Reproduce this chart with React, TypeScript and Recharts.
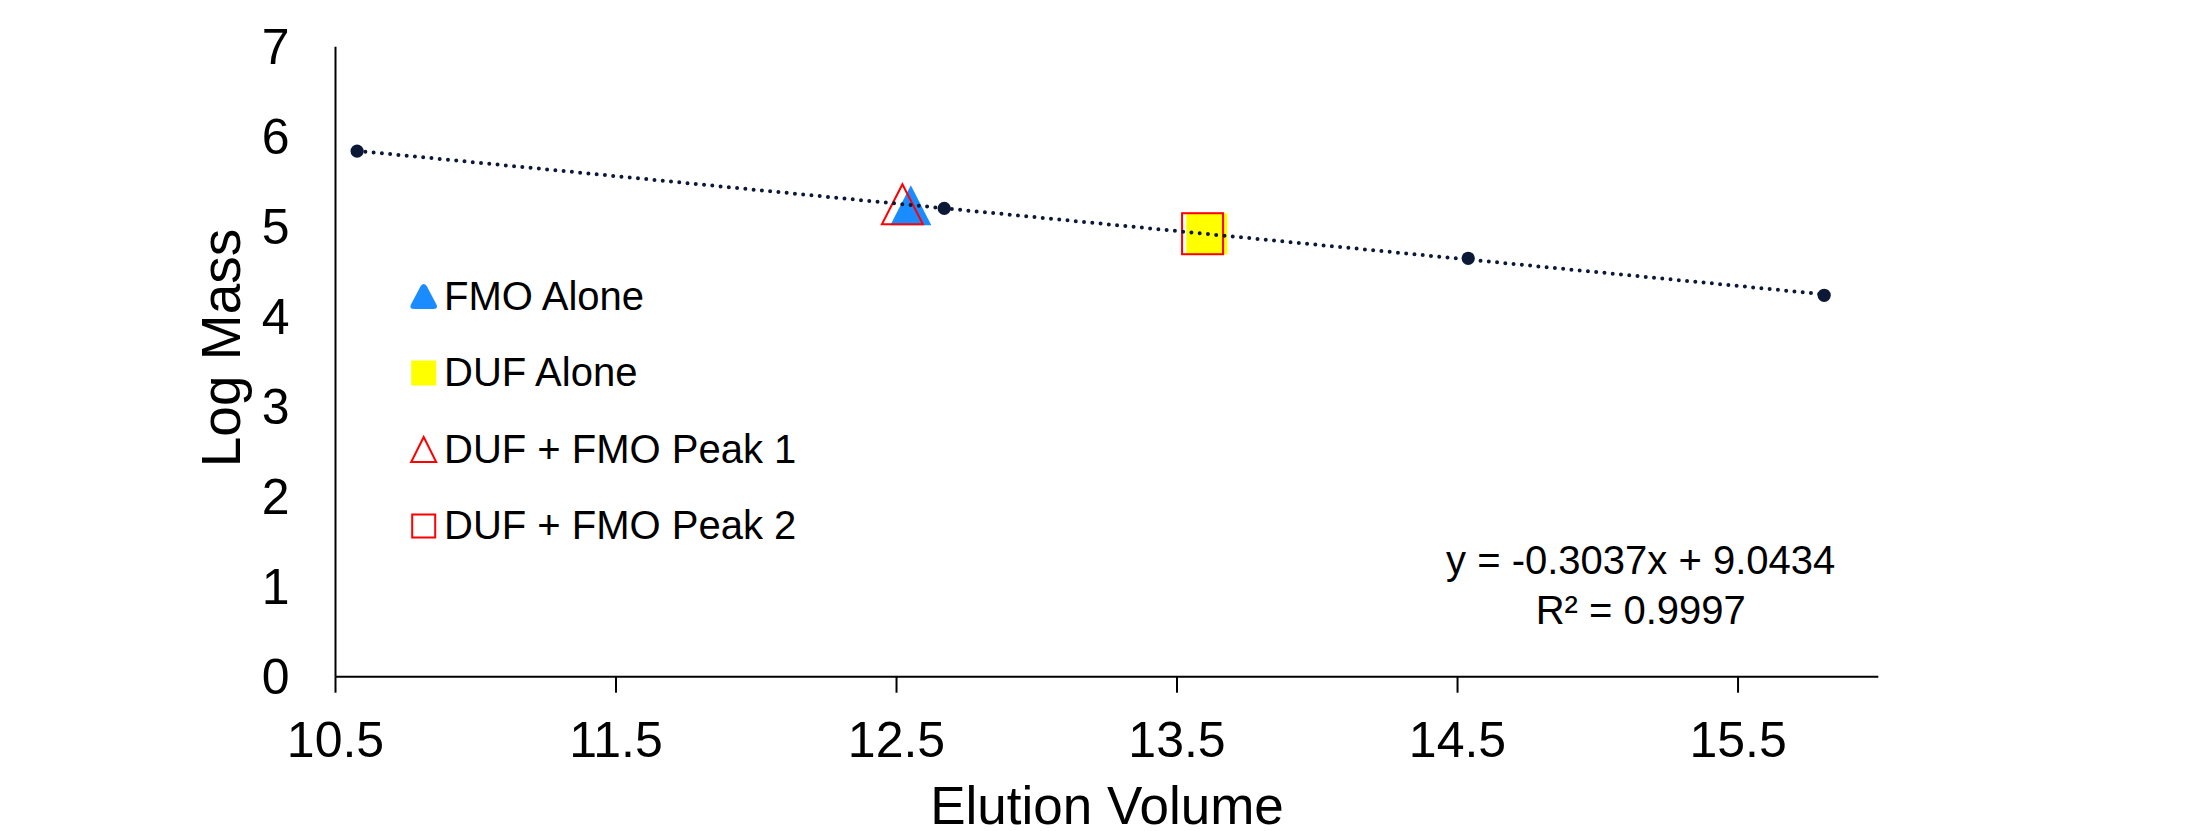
import React from 'react';
import { ScatterChart, Scatter, XAxis, YAxis, Legend, Label, Customized } from 'recharts';

// ---- data ----
const standardsX = [10.577, 12.67, 14.538, 15.807];
const standardsY = [5.84, 5.204, 4.649, 4.238];
const fmoAlone = [{ x: 12.551, y: 5.238 }];
const dufAlone = [{ x: 13.606, y: 4.921 }];
const peak1 = [{ x: 12.521, y: 5.25 }];
const peak2 = [{ x: 13.591, y: 4.922 }];
const xTicks = [10.5, 11.5, 12.5, 13.5, 14.5, 15.5];
const yTicks = [0, 1, 2, 3, 4, 5, 6, 7];
const legendLabels = ['FMO Alone', 'DUF Alone', 'DUF + FMO Peak 1', 'DUF + FMO Peak 2'];
const equationLines = ['y = -0.3037x + 9.0434', 'R² = 0.9997'];
const xTitle = 'Elution Volume';
const yTitle = 'Log Mass';

const standards = standardsX.map((x, i) => ({ x, y: standardsY[i] }));

const FONT = '"Liberation Sans", Arial, sans-serif';
const NAVY = '#0b1936';
const BLUE = '#1a8cff';
const YELLOW = '#ffff00';
const RED = '#ff0000';

const triangle = (fill: string, stroke: string, sw: number) => (props: any) => {
  const { cx, cy } = props;
  const w = 20.5;
  const h = 20;
  return (
    <polygon
      points={`${cx},${cy - h} ${cx - w},${cy + h} ${cx + w},${cy + h}`}
      fill={fill}
      stroke={stroke}
      strokeWidth={sw}
      strokeLinejoin="miter"
    />
  );
};

const square = (fill: string, stroke: string, sw: number) => (props: any) => {
  const { cx, cy } = props;
  const s = 20.5;
  return <rect x={cx - s} y={cy - s} width={2 * s} height={2 * s} fill={fill} stroke={stroke} strokeWidth={sw} />;
};

const dot = (props: any) => {
  const { cx, cy } = props;
  return <circle cx={cx} cy={cy} r={6.6} fill={NAVY} />;
};

const LegendContent = () => {
  const rowY = (i: number) => 26.5 + i * 76.5;
  const mx = 18.7;
  const m = 12.5;
  return (
    <svg width={420} height={300} style={{ display: 'block', overflow: 'visible' }}>
      <path
        d={`M ${mx - 3} ${rowY(0) - m + 2} Q ${mx} ${rowY(0) - m - 2} ${mx + 3} ${rowY(0) - m + 2} L ${mx + m + 0.5} ${rowY(0) + m - 4} Q ${mx + m + 2} ${rowY(0) + m} ${mx + m - 3} ${rowY(0) + m} L ${mx - m + 3} ${rowY(0) + m} Q ${mx - m - 2} ${rowY(0) + m} ${mx - m - 0.5} ${rowY(0) + m - 4} Z`}
        fill={BLUE}
      />
      <rect x={mx - m} y={rowY(1) - m} width={2 * m} height={2 * m} fill={YELLOW} />
      <polygon
        points={`${mx},${rowY(2) - m} ${mx - m},${rowY(2) + m} ${mx + m},${rowY(2) + m}`}
        fill="none"
        stroke={RED}
        strokeWidth={2}
      />
      <rect x={mx - m + 1} y={rowY(3) - m + 1} width={2 * m - 2} height={2 * m - 2} fill="none" stroke={RED} strokeWidth={2} />
      {legendLabels.map((t, i) => (
        <text key={t} x={39} y={rowY(i) + 13} fontFamily={FONT} fontSize={40} fill="#000">
          {t}
        </text>
      ))}
    </svg>
  );
};

const Equation = () => (
  <g>
    {equationLines.map((t, i) => (
      <text key={t} x={1640.7} y={574.3 + i * 49.5} textAnchor="middle" fontFamily={FONT} fontSize={40} fill="#000">
        {t}
      </text>
    ))}
  </g>
);

const YTitle = () => {
  const x = 240;
  const y = 348;
  return (
    <text x={x} y={y} transform={`rotate(-90, ${x}, ${y})`} textAnchor="middle" fontFamily={FONT} fontSize={55} fill="#000">
      {yTitle}
    </text>
  );
};

const XTitle = () => (
  <text x={1107} y={824} textAnchor="middle" fontFamily={FONT} fontSize={53} fill="#000">
    {xTitle}
  </text>
);

export default function App() {
  return (
    <div style={{ position: 'absolute', left: 0, top: 0, width: 2212, height: 831, background: '#fff' }}>
      <ScatterChart width={2212} height={831} margin={{ top: 46.7, right: 333.7, bottom: 0, left: 0 }}>
        <XAxis
          type="number"
          dataKey="x"
          domain={[10.5, 16]}
          ticks={xTicks}
          allowDataOverflow
          height={154.3}
          axisLine={{ stroke: '#000', strokeWidth: 2 }}
          tickLine={{ stroke: '#000', strokeWidth: 2 }}
          tickSize={16}
          tickMargin={29}
          tick={{ fill: '#000', fontSize: 50, fontFamily: FONT }}
        >
          <Label content={XTitle} />
        </XAxis>
        <YAxis
          type="number"
          dataKey="y"
          domain={[0, 7]}
          ticks={yTicks}
          allowDataOverflow
          width={335.5}
          axisLine={{ stroke: '#000', strokeWidth: 2 }}
          tickLine={false}
          tickSize={0}
          tickMargin={46}
          tick={{ fill: '#000', fontSize: 50, fontFamily: FONT }}
        >
          <Label content={YTitle} />
        </YAxis>
        <Scatter data={fmoAlone} shape={triangle(BLUE, 'none', 0)} isAnimationActive={false} />
        <Scatter data={peak1} shape={triangle('none', RED, 2)} isAnimationActive={false} />
        <Scatter data={dufAlone} shape={square(YELLOW, 'none', 0)} isAnimationActive={false} />
        <Scatter data={peak2} shape={square('none', RED, 2)} isAnimationActive={false} />
        <Scatter
          data={standards}
          shape={dot}
          line={{ stroke: NAVY, strokeWidth: 4, strokeDasharray: '0 8.3', strokeLinecap: 'round' }}
          lineType="fitting"
          isAnimationActive={false}
        />
        <Legend
          layout="horizontal"
          verticalAlign="middle"
          align="center"
          content={LegendContent}
          wrapperStyle={{ left: 405, top: 270, width: 420, height: 300 }}
        />
        <Customized component={Equation} />
      </ScatterChart>
    </div>
  );
}
